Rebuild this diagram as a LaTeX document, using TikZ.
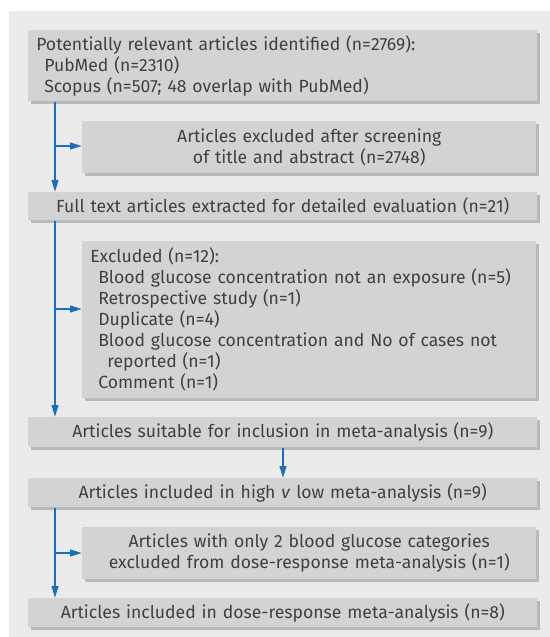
\documentclass[tikz,border=0pt]{standalone}
\usepackage{fontspec}
\setmainfont{Fira Sans}
\usetikzlibrary{arrows.meta,shadows}
\definecolor{bgc}{HTML}{EBEBEC}
\definecolor{boxc}{HTML}{D3D3D4}
\definecolor{shad}{HTML}{B9B9BA}
\definecolor{txt}{HTML}{404040}
\definecolor{arr}{HTML}{1B6DBD}
\begin{document}
\begin{tikzpicture}[x=0.75pt,y=-0.75pt,
  font=\fontsize{13.2}{15.75}\selectfont, text=txt,
  flowbox/.style={fill=boxc, draw=none, inner xsep=6pt, inner ysep=0pt, anchor=north west,
    drop shadow={shadow xshift=2.2pt, shadow yshift=-2.2pt, fill=shad, opacity=1}},
  wide/.style={flowbox, minimum width=381.75pt, text width=369.75pt},
  narrow/.style={flowbox, minimum width=340.5pt, text width=328.5pt},
  conn/.style={draw=arr, line width=1.5pt, -{Triangle[length=9pt,width=5pt]}}]
\useasboundingbox (0,0) rectangle (550,637);
\fill[bgc] (9,11) rectangle (550,637);
\node[wide, minimum height=53.25pt, align=left] (b1) at (28,30)
  {Potentially relevant articles identified (n=2769):\\
   \hspace*{6pt}PubMed (n=2310)\\
   \hspace*{6pt}Scopus (n=507; 48 overlap with PubMed)};
\node[narrow, minimum height=39pt, align=center] (b2) at (82,121)
  {Articles excluded after screening\\of title and abstract (n=2748)};
\node[wide, minimum height=21pt, align=center] (b3) at (28,192)
  {Full text articles extracted for detailed evaluation (n=21)};
\node[narrow, minimum height=117.75pt, align=left] (b4) at (82,241)
  {Excluded (n=12):\\
   \hspace*{6pt}Blood glucose concentration not an exposure (n=5)\\
   \hspace*{6pt}Retrospective study (n=1)\\
   \hspace*{6pt}Duplicate (n=4)\\
   \hspace*{6pt}Blood glucose concentration and No of cases not\\
   \hspace*{12.75pt}reported (n=1)\\
   \hspace*{6pt}Comment (n=1)};
\node[wide, minimum height=22.5pt, align=center] (b5) at (28,417)
  {Articles suitable for inclusion in meta-analysis (n=9)};
\node[wide, minimum height=21.75pt, align=center] (b6) at (28,478)
  {Articles included in high \emph{v} low meta-analysis (n=9)};
\node[narrow, minimum height=39pt, align=center] (b7) at (82,527)
  {Articles with only 2 blood glucose categories\\excluded from dose-response meta-analysis (n=1)};
\node[wide, minimum height=21.75pt, align=center] (b8) at (28,598)
  {Articles included in dose-response meta-analysis (n=8)};
\coordinate (c) at (55,0);
\coordinate (k1) at (55,146);
\coordinate (k2) at (55,309);
\coordinate (k3) at (55,553);
\coordinate (m) at (283,0);
\draw[conn] (c |- b1.south) -- (c |- b3.north);
\draw[conn] (k1) -- (k1 -| b2.west);
\draw[conn] (c |- b3.south) -- (c |- b5.north);
\draw[conn] (k2) -- (k2 -| b4.west);
\draw[conn] (m |- b5.south) -- (m |- b6.north);
\draw[conn] (c |- b6.south) -- (c |- b8.north);
\draw[conn] (k3) -- (k3 -| b7.west);
\end{tikzpicture}
\end{document}
